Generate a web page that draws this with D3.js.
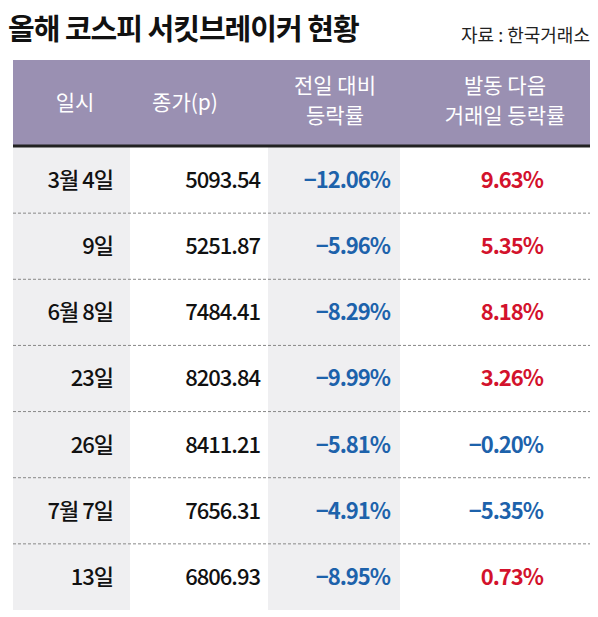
<!DOCTYPE html>
<html><head><meta charset="utf-8">
<script src="https://cdn.jsdelivr.net/npm/d3@7"></script>
<style>body{margin:0;background:#fff}</style>
</head><body><svg id="c" width="598" height="617"></svg>
<script>
const dates = ["3월 4일", "9일", "6월 8일", "23일", "26일", "7월 7일", "13일"];
const closes = [5093.54, 5251.87, 7484.41, 8203.84, 8411.21, 7656.31, 6806.93];
const prevChange = [-12.06, -5.96, -8.29, -9.99, -5.81, -4.91, -8.95];
const nextChange = [9.63, 5.35, 8.18, 3.26, -0.20, -5.35, 0.73];
const headers = [["일시"], ["종가(p)"], ["전일 대비", "등락률"], ["발동 다음", "거래일 등락률"]];

const svg = d3.select("#c");
const font = "'Noto Sans CJK KR', sans-serif";
const fmt = v => (v < 0 ? "\u2212" + Math.abs(v).toFixed(2) : v.toFixed(2)) + "%";

svg.append("text").attr("x", 8).attr("y", 40).attr("font-family", font)
  .attr("font-size", 29).attr("font-weight", 700).attr("fill", "#111")
  .attr("letter-spacing", -1).text("올해 코스피 서킷브레이커 현황");
svg.append("text").attr("x", 590).attr("y", 42).attr("text-anchor", "end")
  .attr("font-family", font).attr("font-size", 18).attr("fill", "#222")
  .text("자료 : 한국거래소");

const x0 = 13, x1 = 590, headTop = 60, headBot = 145, bottom = 610;
svg.append("rect").attr("x", x0).attr("y", headTop).attr("width", x1 - x0)
  .attr("height", headBot - headTop).attr("fill", "#9a90b2");

// shaded columns
[[x0, 130], [268, 400]].forEach(([a, b]) =>
  svg.append("rect").attr("x", a).attr("y", headBot).attr("width", b - a)
    .attr("height", bottom - headBot).attr("fill", "#efeff1"));
svg.append("line").attr("x1", x0).attr("x2", x1).attr("y1", headBot + 1).attr("y2", headBot + 1)
  .attr("stroke", "#222").attr("stroke-width", 3);

const headX = [75, 185, 335, 505];
headers.forEach((h, i) => {
  const t = svg.append("text").attr("text-anchor", "middle").attr("font-family", font)
    .attr("font-size", 21).attr("fill", "#fff");
  h.forEach((line, j) => {
    t.append("tspan").attr("x", headX[i])
      .attr("y", h.length === 1 ? 110 : 93 + j * 30).text(line);
  });
});

const y = d3.scaleBand().domain(d3.range(dates.length)).range([headBot + 2, bottom]);
const rows = svg.selectAll("g.row").data(dates).join("g")
  .attr("transform", (d, i) => `translate(0,${y(i)})`);
rows.filter((d, i) => i < dates.length - 1).append("line").attr("x1", x0).attr("x2", x1)
  .attr("y1", y.bandwidth()).attr("y2", y.bandwidth())
  .attr("stroke", "#888").attr("stroke-width", 1).attr("stroke-dasharray", "3,2");

const cell = (sel, x, fn, color, weight) => sel.append("text").attr("x", x)
  .attr("y", y.bandwidth() / 2 + 8).attr("text-anchor", "end")
  .attr("font-family", font).attr("font-size", 22).attr("letter-spacing", -1)
  .attr("font-weight", weight).attr("fill", color).text(fn);

cell(rows, 113, d => d, "#111", 500);
cell(rows, 260, (d, i) => closes[i].toFixed(2), "#111", 500);
cell(rows, 390, (d, i) => fmt(prevChange[i]), "#1d62ab", 700);
cell(rows, 543, (d, i) => fmt(nextChange[i]), (d, i) => nextChange[i] >= 0 ? "#d3122c" : "#1d62ab", 700);
</script></body></html>
